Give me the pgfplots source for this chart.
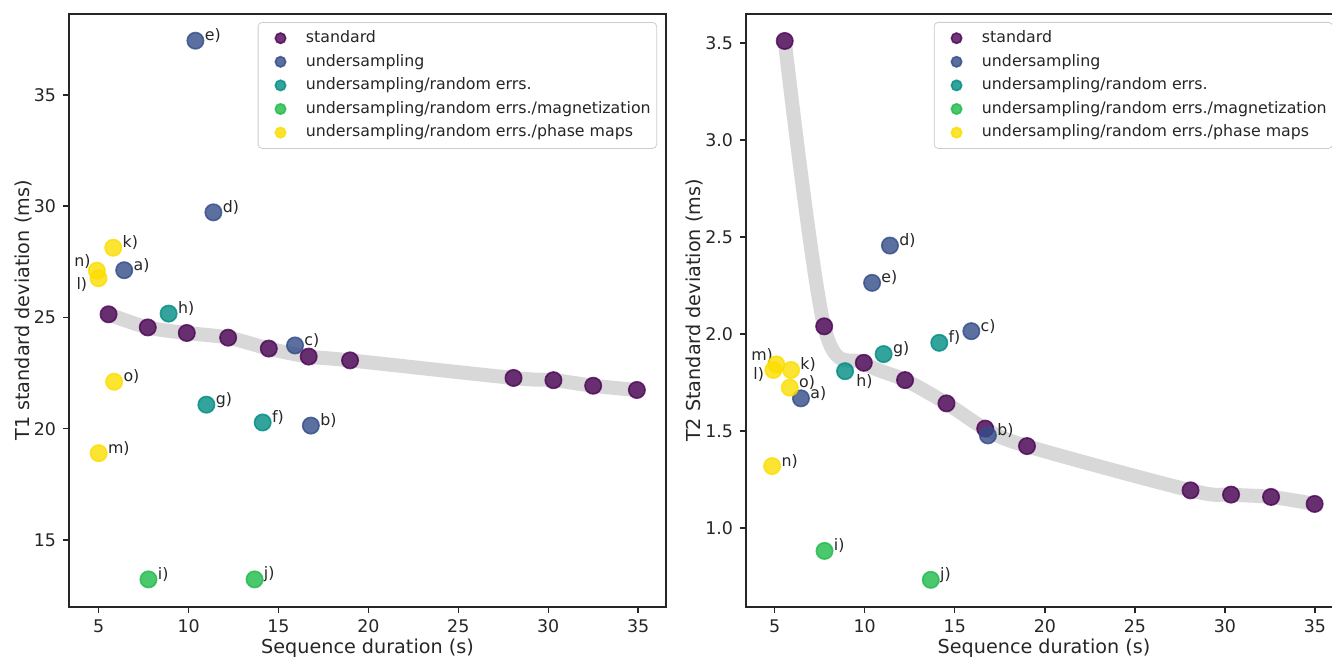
\documentclass[border=0pt]{standalone}
\usepackage{fontspec}
\setmainfont{DejaVu Sans}
\usepackage{pgfplots}
\pgfplotsset{compat=1.18}
\usepackage{pgfplotstable}

\definecolor{stdc}{RGB}{76,5,86}
\definecolor{usc}{RGB}{51,76,136}
\definecolor{rec}{RGB}{0,140,130}
\definecolor{magc}{RGB}{30,186,74}
\definecolor{phc}{RGB}{251,221,0}
\definecolor{bandc}{RGB}{216,216,216}

% T1 panel
\pgfplotstableread{
x y
5.55 25.14
7.73 24.55
9.90 24.30
12.20 24.09
14.46 23.60
16.68 23.24
18.98 23.07
28.07 22.28
30.29 22.18
32.50 21.93
34.93 21.74
}\tOneStd
\pgfplotstableread{
x y
6.42 27.12
16.80 20.14
15.92 23.74
11.38 29.72
10.38 37.43
}\tOneUs
\pgfplotstableread{
x y
14.12 20.28
10.99 21.08
8.89 25.17
}\tOneRe
\pgfplotstableread{
x y
7.77 13.23
13.67 13.23
}\tOneMag
\pgfplotstableread{
x y
5.81 28.13
4.99 26.76
5.00 18.90
4.90 27.10
5.86 22.11
}\tOnePh

% T2 panel
\pgfplotstableread{
x y
5.56 3.510
7.75 2.040
9.95 1.852
12.24 1.763
14.54 1.643
16.69 1.513
19.01 1.423
28.09 1.195
30.34 1.173
32.56 1.161
34.98 1.125
}\tTwoStd
\pgfplotstableread{
x y
6.46 1.669
16.84 1.478
15.92 2.015
11.40 2.456
10.41 2.264
}\tTwoUs
\pgfplotstableread{
x y
14.14 1.955
11.05 1.897
8.91 1.809
}\tTwoRe
\pgfplotstableread{
x y
7.77 0.883
13.67 0.734
}\tTwoMag
\pgfplotstableread{
x y
5.91 1.815
4.93 1.815
5.09 1.844
4.86 1.320
5.84 1.724
}\tTwoPh

\pgfplotsset{
  panel/.style={
    scale only axis,
    height=296.5pt,
    axis line style={line width=0.7pt, black!85},
    tick align=outside, xtick pos=bottom, ytick pos=left,
    major tick length=3pt,
    tick style={line width=0.7pt, black!85},
    xtick={5,10,...,35},
    ticklabel style={font=\fontsize{8.7}{10}\selectfont, text=black!85},
    /pgf/number format/assume math mode=true,
    label style={font=\fontsize{9.6}{11}\selectfont, text=black!85},
    xlabel={Sequence duration (s)},
    xlabel style={at={(axis description cs:0.5,-0.069)}, anchor=center},
    legend cell align=left,
    legend style={font=\fontsize{7.9}{9.5}\selectfont, draw=black!20,
      rounded corners=2pt, fill=white, text=black!85, inner xsep=1pt,
      nodes={text height=6pt, text depth=1.8pt, inner ysep=2pt}},
    clip=false,
  },
  mk/.style={only marks, mark=*, mark size=4.1pt,
    mark options={fill=#1, draw=#1, fill opacity=0.8, draw opacity=0.8, line width=0.8pt},
    legend image code/.code={\path (-10pt,0pt) (10.5pt,0pt);
      \draw[##1, mark size=2.6pt] plot coordinates {(0pt,0pt)};}},
  band/.style={bandc, line width=7pt, smooth, tension=0.55, line cap=round, line join=round, forget plot},
}
\tikzset{
  lab/.style={font=\fontsize{7.9}{9}\selectfont, text=black!85, anchor=west, inner sep=0pt, xshift=4.5pt, yshift=2.5pt},
  labl/.style={font=\fontsize{7.9}{9}\selectfont, text=black!85, anchor=east, inner sep=0pt},
}

\begin{document}
\begin{tikzpicture}
\begin{axis}[panel,
  at={(34.5pt,26.5pt)}, anchor=south west,
  width=298.5pt,
  xmin=3.35, xmax=36.55, ymin=11.99, ymax=38.63,
  ytick={15,20,25,30,35},
  ylabel={T1 standard deviation (ms)},
  ylabel style={at={(axis description cs:-0.077,0.5)}, anchor=center},
  legend style={at={(0.985,0.9865)}, anchor=north east},
]
\addplot[band] table[x=x,y=y] {\tOneStd};
\addplot[mk=stdc] table[x=x,y=y] {\tOneStd};
\addlegendentry{standard}
\addplot[mk=usc] table[x=x,y=y] {\tOneUs};
\addlegendentry{undersampling}
\addplot[mk=rec] table[x=x,y=y] {\tOneRe};
\addlegendentry{undersampling/random errs.}
\addplot[mk=magc] table[x=x,y=y] {\tOneMag};
\addlegendentry{undersampling/random errs./magnetization}
\addplot[mk=phc] table[x=x,y=y] {\tOnePh};
\addlegendentry{undersampling/random errs./phase maps}

\node[lab] at (axis cs:10.38,37.43) {e)};
\node[lab] at (axis cs:11.38,29.72) {d)};
\node[lab] at (axis cs:6.42,27.12) {a)};
\node[lab] at (axis cs:5.81,28.13) {k)};
\node[lab] at (axis cs:15.92,23.74) {c)};
\node[lab] at (axis cs:16.80,20.14) {b)};
\node[lab] at (axis cs:8.89,25.17) {h)};
\node[lab] at (axis cs:10.99,21.08) {g)};
\node[lab] at (axis cs:14.12,20.28) {f)};
\node[lab] at (axis cs:7.77,13.23) {i)};
\node[lab] at (axis cs:13.67,13.23) {j)};
\node[lab] at (axis cs:5.86,22.11) {o)};
\node[lab] at (axis cs:5.00,18.90) {m)};
\node[labl, xshift=-3pt, yshift=4.5pt] at (axis cs:4.90,27.10) {n)};
\node[labl, xshift=-5.5pt, yshift=-3pt] at (axis cs:4.99,26.76) {l)};
\end{axis}

\begin{axis}[panel,
  at={(373pt,26.5pt)}, anchor=south west,
  width=298pt,
  xmin=3.41, xmax=36.5, ymin=0.594, ymax=3.649,
  ytick={1.0,1.5,2.0,2.5,3.0,3.5},
  yticklabel style={/pgf/number format/.cd, fixed, fixed zerofill, precision=1},
  ylabel={T2 Standard deviation (ms)},
  ylabel style={at={(axis description cs:-0.0864,0.5)}, anchor=center},
  legend style={at={(0.315,0.9865)}, anchor=north west},
]
\addplot[band] table[x=x,y=y] {\tTwoStd};
\addplot[mk=stdc] table[x=x,y=y] {\tTwoStd};
\addlegendentry{standard}
\addplot[mk=usc] table[x=x,y=y] {\tTwoUs};
\addlegendentry{undersampling}
\addplot[mk=rec] table[x=x,y=y] {\tTwoRe};
\addlegendentry{undersampling/random errs.}
\addplot[mk=magc] table[x=x,y=y] {\tTwoMag};
\addlegendentry{undersampling/random errs./magnetization}
\addplot[mk=phc] table[x=x,y=y] {\tTwoPh};
\addlegendentry{undersampling/random errs./phase maps}

\node[lab] at (axis cs:11.40,2.456) {d)};
\node[lab] at (axis cs:10.41,2.264) {e)};
\node[lab] at (axis cs:15.92,2.015) {c)};
\node[lab] at (axis cs:14.14,1.955) {f)};
\node[lab] at (axis cs:11.05,1.897) {g)};
\node[lab, xshift=1pt, yshift=-7.5pt] at (axis cs:8.91,1.809) {h)};
\node[lab] at (axis cs:5.91,1.815) {k)};
\node[lab] at (axis cs:5.84,1.724) {o)};
\node[lab] at (axis cs:6.46,1.669) {a)};
\node[lab] at (axis cs:16.84,1.478) {b)};
\node[lab] at (axis cs:4.86,1.320) {n)};
\node[lab] at (axis cs:7.77,0.883) {i)};
\node[lab] at (axis cs:13.67,0.734) {j)};
\node[labl, xshift=-1.5pt, yshift=4.5pt] at (axis cs:5.09,1.844) {m)};
\node[labl, xshift=-4.5pt, yshift=-2.5pt] at (axis cs:4.93,1.815) {l)};
\end{axis}
\pgfresetboundingbox
\path[use as bounding box] (0pt,0pt) rectangle (666pt,330pt);
\end{tikzpicture}
\end{document}
